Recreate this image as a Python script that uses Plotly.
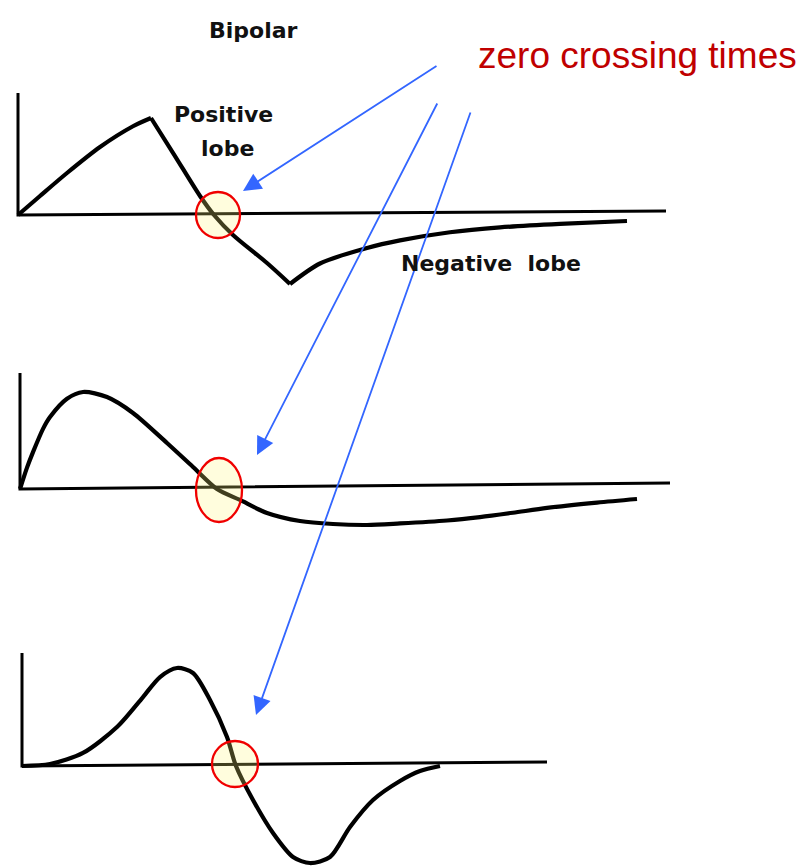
import plotly.graph_objects as go

W, H = 803, 868

# ---- waveform samples: time (arbitrary units) and normalised amplitude ----
t_pulse1 = [0, 2.2, 4.9, 8.2, 11.5, 13.3, 15.7, 18.2, 19.6, 21.5, 24.9, 27.2,
            30.2, 34.9, 38.2, 43.2, 48.2, 54.2, 60.9]
a_pulse1 = [0, 0.196, 0.433, 0.701, 0.915, 1.0, 0.608, 0.196, 0.0, -0.206,
            -0.495, -0.711, -0.500, -0.340, -0.262, -0.178, -0.128, -0.092, -0.062]

t_pulse2 = [0, 0.7, 1.3, 2.3, 3.0, 4.7, 6.3, 8.7, 11.3, 14.7, 17.3, 19.7, 22.0,
            24.7, 28.0, 31.3, 34.7, 38.0, 42.7, 46.0, 49.3, 52.7, 57.7, 61.7]
a_pulse2 = [0, 0.220, 0.380, 0.620, 0.742, 0.930, 1.0, 0.948, 0.784, 0.474,
            0.227, 0.0, -0.113, -0.247, -0.330, -0.361, -0.371, -0.355, -0.325,
            -0.290, -0.245, -0.195, -0.140, -0.103]

t_pulse3 = [0, 2.8, 6.1, 9.5, 12.1, 13.8, 15.5, 17.1, 18.8, 20.5, 21.4, 23.1,
            25.1, 27.1, 28.8, 30.8, 32.8, 35.1, 37.8, 39.8, 41.8]
a_pulse3 = [0, 0.02, 0.133, 0.398, 0.704, 0.908, 1.0, 0.949, 0.673, 0.296, 0.0,
            -0.347, -0.684, -0.929, -0.990, -0.929, -0.622, -0.347, -0.153,
            -0.051, 0.0]

# axis extents for each sketch: vertical axis height, baseline length, baseline end level
axis_top = [1.258, 1.196, 1.153]
axis_len = [64.8, 65.0, 52.5]
axis_end = [0.04, 0.062, 0.04]

# zero crossing times marked on each waveform
zero_cross = [20.0, 19.9, 21.3]

waves = [(t_pulse1, a_pulse1), (t_pulse2, a_pulse2), (t_pulse3, a_pulse3)]
# the first (triangular) pulse has sharp corners at its peak and trough
sharp_corners = [True, False, False]

# ---- layout geometry (pixels) ----
origins = [(18, 215), (20, 489), (22, 766)]   # where time=0, amplitude=0 sits
amp_px = [97, 97, 98]                          # pixels per unit amplitude
t_px = 10                                      # pixels per time unit
bands = [(0, 330), (330, 600), (600, 868)]     # vertical pixel band of each panel
ring_r = [(22, 23), (23, 32), (23, 23)]        # ellipse half-axes in pixels
ring_dy = [0, 1, -2]                           # small vertical nudge in pixels

fig = go.Figure()


def segments(t, a, sharp):
    if not sharp:
        return [(t, a)]
    ip = a.index(max(a))
    it = a.index(min(a))
    return [(t[:ip + 1], a[:ip + 1]), (t[ip:it + 1], a[ip:it + 1]), (t[it:], a[it:])]


for i, ((t, a), (ox, oy), ap, (b0, b1)) in enumerate(zip(waves, origins, amp_px, bands)):
    n = "" if i == 0 else str(i + 1)
    xa, ya = "x" + n, "y" + n
    # axes drawn as an L: vertical axis then baseline
    fig.add_trace(go.Scatter(
        x=[0, 0, axis_len[i]], y=[axis_top[i], 0, axis_end[i]],
        mode="lines", line=dict(color="black", width=3),
        xaxis=xa, yaxis=ya, hoverinfo="skip", showlegend=False))
    for st, sa in segments(t, a, sharp_corners[i]):
        fig.add_trace(go.Scatter(
            x=st, y=sa, mode="lines",
            line=dict(color="black", width=4.2, shape="spline", smoothing=0.8),
            xaxis=xa, yaxis=ya, hoverinfo="skip", showlegend=False))
    axkw = dict(visible=False, showgrid=False, zeroline=False, fixedrange=True)
    fig.update_layout({
        "xaxis" + n: dict(domain=[0, 1], range=[-ox / t_px, (W - ox) / t_px],
                          anchor=ya, **axkw),
        "yaxis" + n: dict(domain=[1 - b1 / H, 1 - b0 / H],
                          range=[(oy - b1) / ap, (oy - b0) / ap],
                          anchor=xa, **axkw),
    })
    rx, ry = ring_r[i]
    fig.add_shape(type="circle", xref=xa, yref=ya,
                  xsizemode="pixel", ysizemode="pixel",
                  xanchor=zero_cross[i], yanchor=0,
                  x0=-rx, x1=rx, y0=-ry - ring_dy[i], y1=ry - ring_dy[i],
                  line=dict(color="#F00000", width=2.3),
                  fillcolor="rgba(255,248,120,0.25)", layer="above")


def px(x):
    return x / W


def py(y):
    return 1 - y / H


# blue pointers from the caption to each crossing (tail -> tip, pixels)
pointers = [((438, 65), (243, 191)), ((438, 102), (257, 455)), ((471, 111), (256, 715))]
for (tx, ty), (hx, hy) in pointers:
    fig.add_annotation(x=px(hx), y=py(hy), xref="paper", yref="paper",
                       ax=tx - hx, ay=ty - hy, axref="pixel", ayref="pixel",
                       text="", showarrow=True, arrowhead=2, arrowsize=2.0,
                       arrowwidth=1.8, arrowcolor="#3366FF")

labels = [
    ("Bipolar", 253, 30),
    ("Positive", 223, 114),
    ("lobe", 227, 148),
    ("Negative  lobe", 491, 263),
]
for txt, x, y in labels:
    fig.add_annotation(x=px(x), y=py(y), xref="paper", yref="paper",
                       text="<b>" + txt + "</b>",
                       showarrow=False, xanchor="center", yanchor="middle",
                       font=dict(family="DejaVu Sans", size=22, color="#111111"))

fig.add_annotation(x=px(637), y=py(56), xref="paper", yref="paper",
                   text="zero crossing times", showarrow=False,
                   xanchor="center", yanchor="middle",
                   font=dict(family="Liberation Sans, Arial", size=37, color="#C00000"))

fig.update_layout(width=W, height=H, margin=dict(l=0, r=0, t=0, b=0),
                  paper_bgcolor="white", plot_bgcolor="rgba(0,0,0,0)",
                  showlegend=False)

fig.write_html("out.html", config={"displayModeBar": False})
